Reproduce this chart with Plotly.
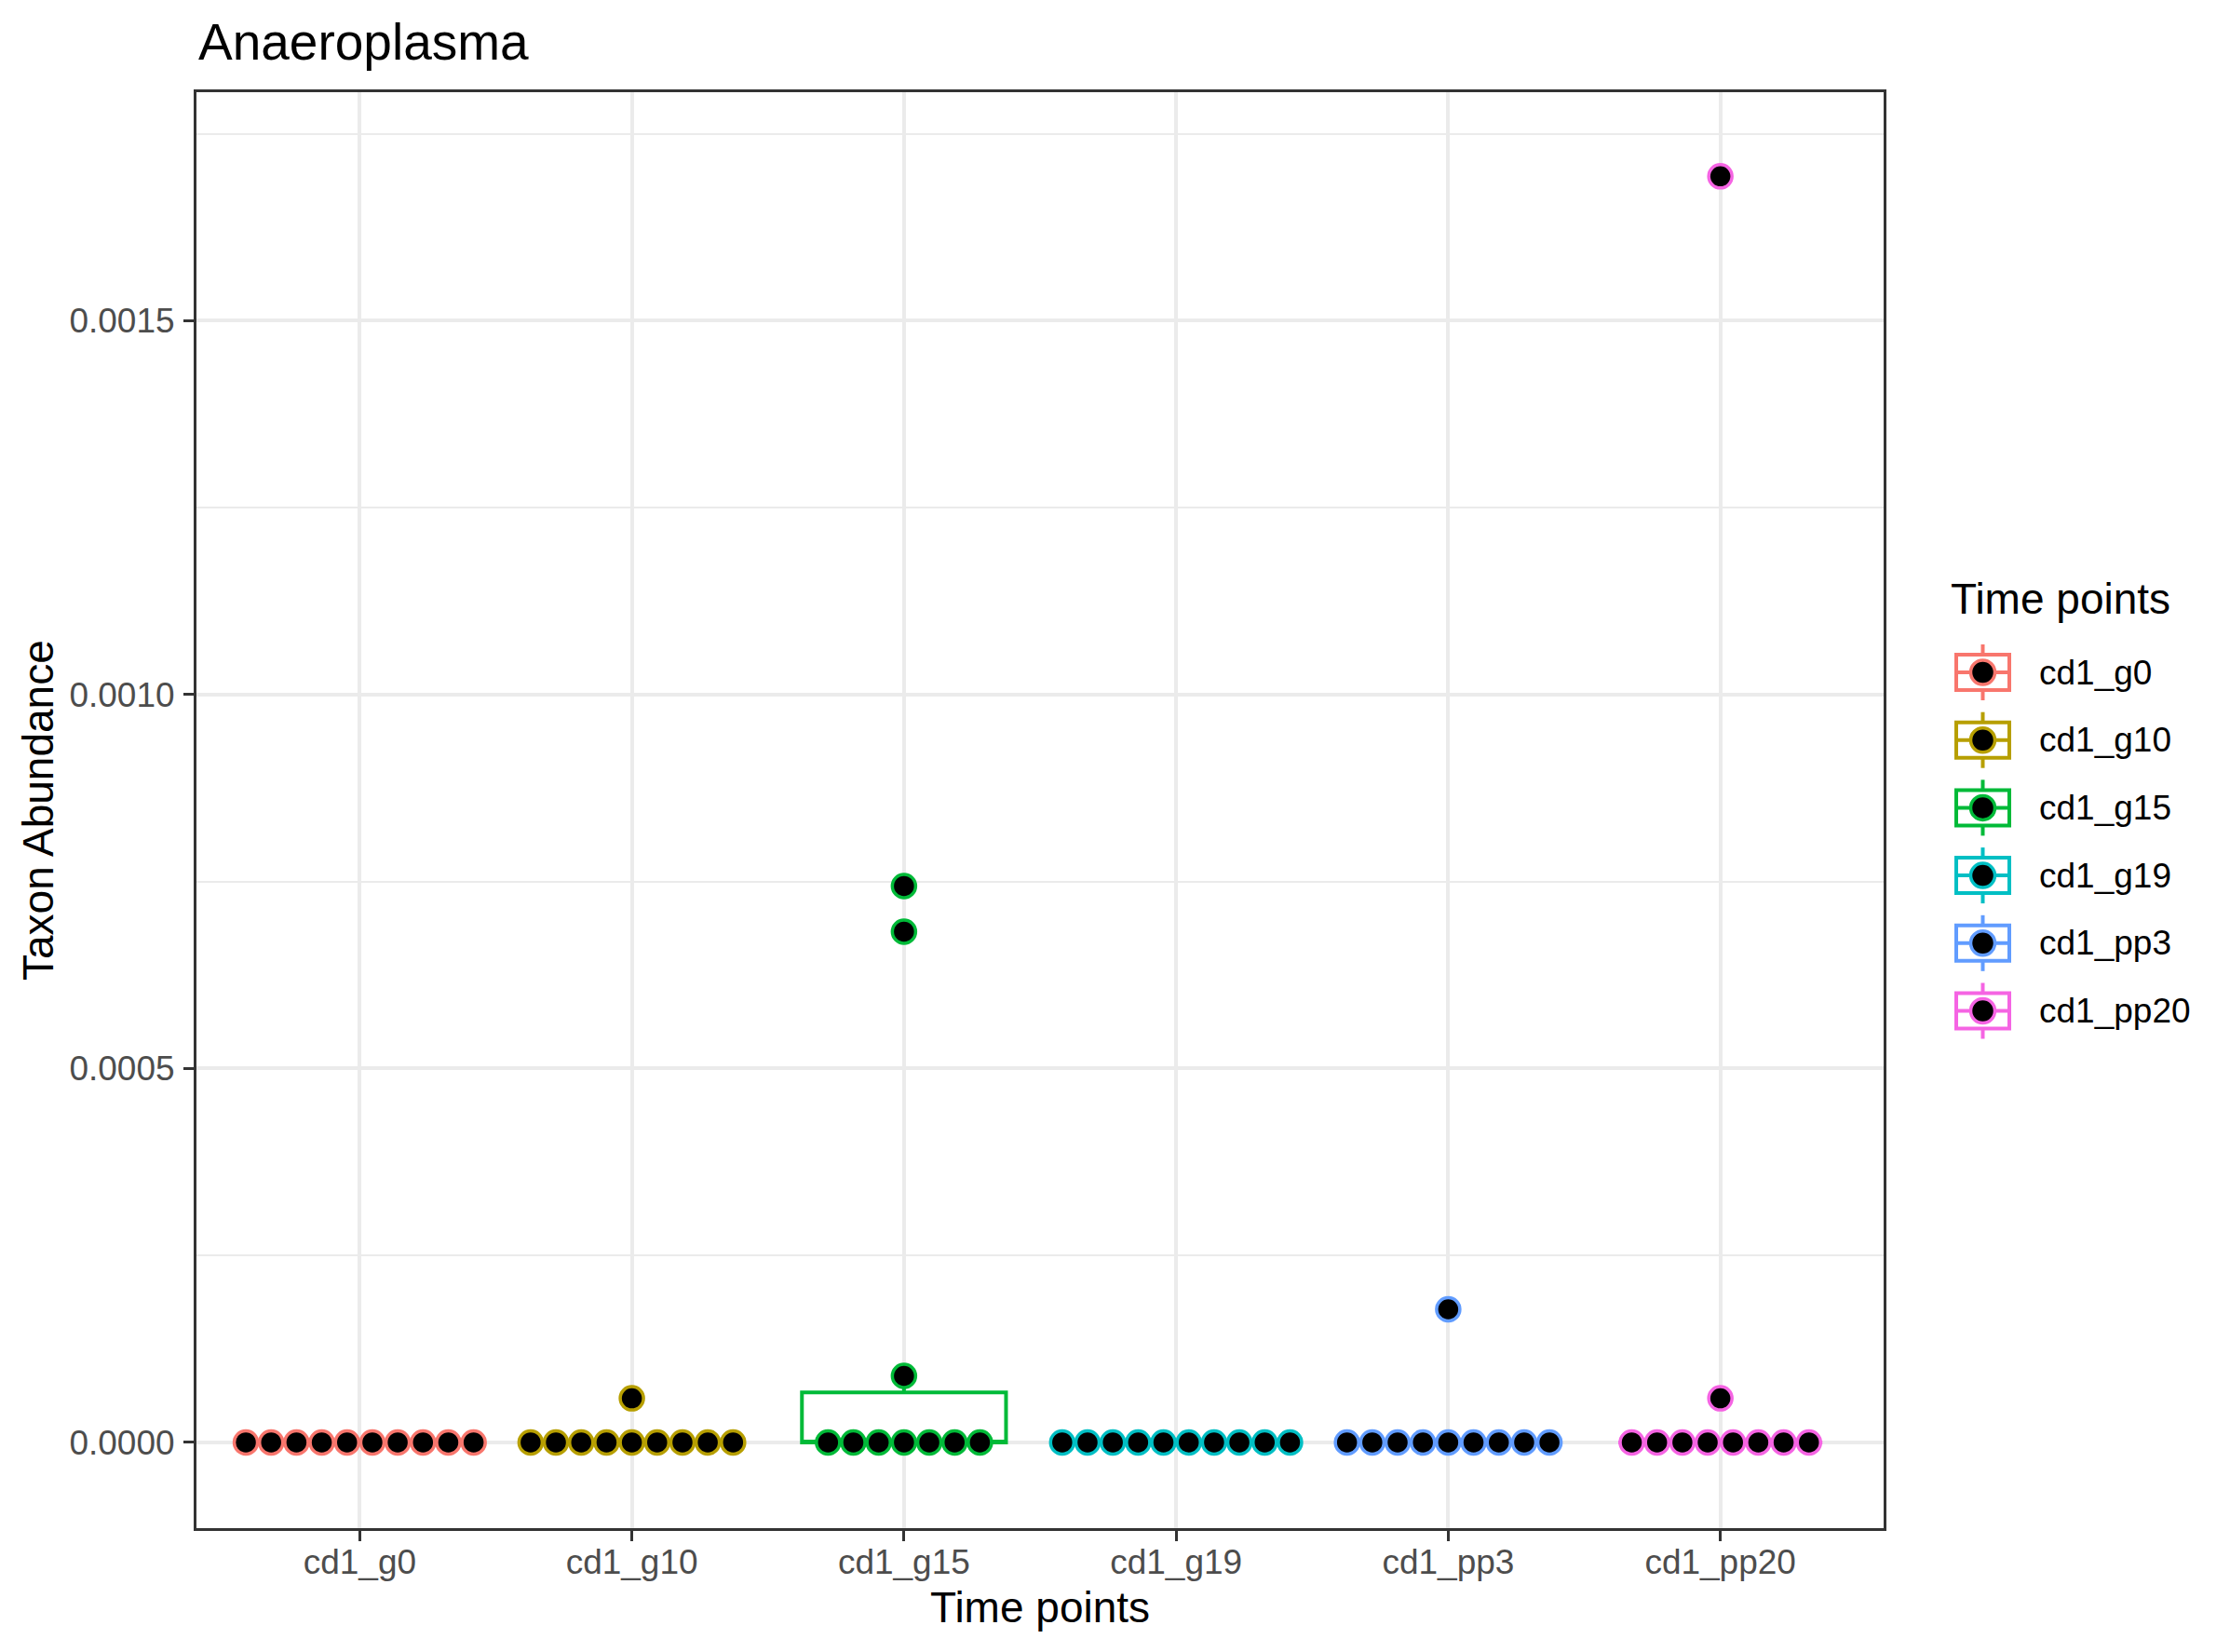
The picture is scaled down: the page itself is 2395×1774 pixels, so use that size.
import numpy as np
import plotly.graph_objects as go
from collections import Counter

# ---------------- data ----------------
categories = ["cd1_g0", "cd1_g10", "cd1_g15", "cd1_g19", "cd1_pp3", "cd1_pp20"]
colors = ["#F8766D", "#B79F00", "#00BA38", "#00BFC4", "#619CFF", "#F564E3"]

cd1_g0 = [0.0, 0.0, 0.0, 0.0, 0.0, 0.0, 0.0, 0.0, 0.0, 0.0]
cd1_g10 = [0.0, 0.0, 0.0, 0.0, 0.0, 0.0, 0.0, 0.0, 0.0, 0.000059]
cd1_g15 = [0.0, 0.0, 0.0, 0.0, 0.0, 0.0, 0.0, 0.000089, 0.000683, 0.000744]
cd1_g19 = [0.0, 0.0, 0.0, 0.0, 0.0, 0.0, 0.0, 0.0, 0.0, 0.0]
cd1_pp3 = [0.0, 0.0, 0.0, 0.0, 0.0, 0.0, 0.0, 0.0, 0.0, 0.000178]
cd1_pp20 = [0.0, 0.0, 0.0, 0.0, 0.0, 0.0, 0.0, 0.0, 0.000059, 0.001693]

series = [cd1_g0, cd1_g10, cd1_g15, cd1_g19, cd1_pp3, cd1_pp20]

y_tickvals = [0.0, 0.0005, 0.0010, 0.0015]
y_ticktext = ["0.0000", "0.0005", "0.0010", "0.0015"]

# ---------------- style / layout constants ----------------
W, H = 2395, 1774
PL, PR, PT, PB = 211, 2023, 99, 1641          # panel edges in pixels
PW, PH = PR - PL, PB - PT
DOT_STEP = 0.093                                # horizontal stacking step (x units)
FONT = "Liberation Sans, Arial, Helvetica, sans-serif"


def px_x(x):
    return (x - PL) / PW


def px_y(y):
    return (PB - y) / PH


fig = go.Figure()

# boxplots (stats computed from data, R type-7 quantiles)
for i, (vals, c) in enumerate(zip(series, colors)):
    v = np.array(vals)
    q1, med, q3 = np.percentile(v, [25, 50, 75])
    iqr = q3 - q1
    uf = v[v <= q3 + 1.5 * iqr].max()
    lf = v[v >= q1 - 1.5 * iqr].min()
    fig.add_trace(go.Box(
        x=[i], q1=[q1], median=[med], q3=[q3], lowerfence=[lf], upperfence=[uf],
        width=0.75, whiskerwidth=0, boxpoints=False,
        line=dict(color=c, width=4), fillcolor="white",
        showlegend=False, hoverinfo="skip",
    ))

# dot plots: centered horizontal stacks of identical values
for i, (vals, c) in enumerate(zip(series, colors)):
    xs, ys = [], []
    cnt = Counter(vals)
    for val, n in cnt.items():
        for k in range(n):
            xs.append(i + (k - (n - 1) / 2) * DOT_STEP)
            ys.append(val)
    fig.add_trace(go.Scatter(
        x=xs, y=ys, mode="markers",
        marker=dict(size=25, color="black", line=dict(color=c, width=3.5)),
        showlegend=False, hoverinfo="skip",
    ))

# ---------------- manual legend (ggplot-style keys) ----------------
shapes = []
annotations = []
LEG_X0, LEG_X1 = 2101, 2158
LEG_CX = (LEG_X0 + LEG_X1) / 2
LEG_Y0 = 722
LEG_DY = 72.7
for i, (cat, c) in enumerate(zip(categories, colors)):
    cy = LEG_Y0 + i * LEG_DY
    # whisker
    shapes.append(dict(type="line", xref="paper", yref="paper",
                       x0=px_x(LEG_CX), x1=px_x(LEG_CX), y0=px_y(cy - 30), y1=px_y(cy + 30),
                       line=dict(color=c, width=4)))
    # box
    shapes.append(dict(type="rect", xref="paper", yref="paper",
                       x0=px_x(LEG_X0), x1=px_x(LEG_X1), y0=px_y(cy - 19), y1=px_y(cy + 19),
                       line=dict(color=c, width=4), fillcolor="white"))
    # median
    shapes.append(dict(type="line", xref="paper", yref="paper",
                       x0=px_x(LEG_X0), x1=px_x(LEG_X1), y0=px_y(cy), y1=px_y(cy),
                       line=dict(color=c, width=4)))
    # dot
    r = 13
    shapes.append(dict(type="circle", xref="paper", yref="paper",
                       x0=px_x(LEG_CX - r), x1=px_x(LEG_CX + r), y0=px_y(cy + r), y1=px_y(cy - r),
                       line=dict(color=c, width=3.5), fillcolor="black"))
    annotations.append(dict(text=cat, xref="paper", yref="paper", x=px_x(2188), y=px_y(cy),
                            xanchor="left", yanchor="middle", showarrow=False,
                            font=dict(family=FONT, size=37, color="black")))

annotations.append(dict(text="Time points", xref="paper", yref="paper", x=px_x(2093), y=px_y(643),
                        xanchor="left", yanchor="middle", showarrow=False,
                        font=dict(family=FONT, size=46, color="black")))
# axis titles
annotations.append(dict(text="Time points", xref="paper", yref="paper", x=0.5, y=px_y(1726),
                        xanchor="center", yanchor="middle", showarrow=False,
                        font=dict(family=FONT, size=46, color="black")))
annotations.append(dict(text="Taxon Abundance", xref="paper", yref="paper", x=px_x(41), y=0.5,
                        xanchor="center", yanchor="middle", showarrow=False, textangle=-90,
                        font=dict(family=FONT, size=46, color="black")))
# plot title
annotations.append(dict(text="Anaeroplasma", xref="paper", yref="paper", x=0, y=px_y(45),
                        xanchor="left", yanchor="middle", showarrow=False,
                        font=dict(family=FONT, size=55, color="black")))

fig.update_layout(
    width=W, height=H,
    margin=dict(l=PL, r=W - PR, t=PT, b=H - PB, pad=0),
    paper_bgcolor="white", plot_bgcolor="white",
    font=dict(family=FONT, color="#4D4D4D"),
    shapes=shapes, annotations=annotations,
    showlegend=False,
)
fig.update_xaxes(
    range=[-0.6, 5.6], tickmode="array", tickvals=list(range(len(categories))), ticktext=categories,
    showgrid=True, gridcolor="#EBEBEB", gridwidth=4, zeroline=False,
    showline=True, mirror=True, linecolor="#333333", linewidth=3,
    ticks="outside", ticklen=11, tickwidth=3, tickcolor="#333333",
    ticklabelstandoff=-9,
    tickfont=dict(family=FONT, size=37, color="#4D4D4D"),
)
fig.update_yaxes(
    range=[-0.0001146, 0.0018055], tickmode="array", tickvals=y_tickvals, ticktext=y_ticktext,
    showgrid=True, gridcolor="#EBEBEB", gridwidth=4, zeroline=False,
    minor=dict(tickmode="array", tickvals=[0.00025, 0.00075, 0.00125, 0.00175],
               showgrid=True, gridcolor="#EBEBEB", gridwidth=2, ticks=""),
    showline=True, mirror=True, linecolor="#333333", linewidth=3,
    ticks="outside", ticklen=11, tickwidth=3, tickcolor="#333333",
    ticklabelstandoff=2,
    tickfont=dict(family=FONT, size=37, color="#4D4D4D"),
)

fig.write_html("out.html", config={"displayModeBar": False},
               post_script="document.body.style.margin='0px';")
